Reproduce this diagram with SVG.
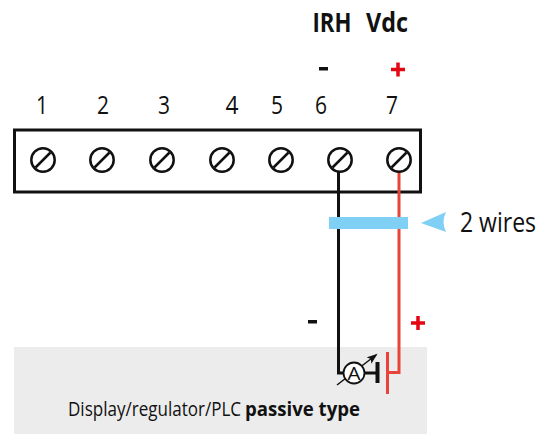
<svg xmlns="http://www.w3.org/2000/svg" width="544" height="434" viewBox="0 0 544 434">
<style>
text{font-family:"Open Sans","Noto Sans","Liberation Sans",sans-serif;fill:#111}
.n{font-size:26px;text-anchor:middle}
.b{font-weight:700}
.s{fill:none;stroke:#111;stroke-width:2.5}
.k{stroke:#111;stroke-width:2.5}
.w{fill:none;stroke:#111;stroke-width:3}
.r{fill:none;stroke:#e9443a;stroke-width:3}
</style>
<defs>
<g id="screw"><circle r="11.7" fill="#fff" class="s"/><line x1="-7.5" y1="7.5" x2="7.5" y2="-7.5" class="k"/></g>
<marker id="ah" markerWidth="12" markerHeight="10" refX="9" refY="4" orient="auto" markerUnits="userSpaceOnUse"><path d="M0 0L11 4L0 8L2.5 4Z" fill="#111"/></marker>
</defs>
<rect id="panel" x="14" y="347" width="413" height="87" fill="#ececec"/>
<g id="terminal-block">
<rect x="14.5" y="130" width="406" height="62" fill="#fff" stroke="#111" stroke-width="3"/>
</g>
<g id="connectors">
<path class="w" d="M338.500 172V373H344"/>
<path class="r" d="M399 172V372.500H387"/>
<path id="cable" d="M329 217H408V229H329Z" fill="#80cff5"/>
</g>
<g id="t1"><use href="#screw" x="43" y="160"/><text class="n" x="42" y="114" textLength="12" lengthAdjust="spacingAndGlyphs">1</text></g>
<g id="t2"><use href="#screw" x="102" y="160"/><text class="n" x="103" y="114" textLength="12" lengthAdjust="spacingAndGlyphs">2</text></g>
<g id="t3"><use href="#screw" x="162" y="160"/><text class="n" x="164" y="114" textLength="12" lengthAdjust="spacingAndGlyphs">3</text></g>
<g id="t4"><use href="#screw" x="222" y="160"/><text class="n" x="232" y="114" textLength="13" lengthAdjust="spacingAndGlyphs">4</text></g>
<g id="t5"><use href="#screw" x="281" y="160"/><text class="n" x="277" y="114" textLength="12" lengthAdjust="spacingAndGlyphs">5</text></g>
<g id="t6"><use href="#screw" x="340" y="160"/><text class="n" x="321" y="114" textLength="12" lengthAdjust="spacingAndGlyphs">6</text></g>
<g id="t7"><use href="#screw" x="399" y="160"/><text class="n" x="392" y="114" textLength="12" lengthAdjust="spacingAndGlyphs">7</text></g>
<g id="header-irh"><text class="n b" x="332" y="32" textLength="39" lengthAdjust="spacingAndGlyphs">IRH</text></g>
<g id="header-vdc"><text class="n b" x="387" y="32" textLength="42" lengthAdjust="spacingAndGlyphs">Vdc</text></g>
<g id="signs">
<rect x="319" y="67" width="9" height="3.500" fill="#111"/>
<path d="M391 69.500H405M398 62.500V76.500" stroke="#e30613" stroke-width="3.500" fill="none"/>
<rect x="308" y="320" width="9" height="3.500" fill="#111"/>
<path d="M411 323H425M418 316V330" stroke="#e30613" stroke-width="3.500" fill="none"/>
</g>
<g id="wires-callout">
<path d="M421 223L446 212Q441 222 446 232Z" fill="#80cff5"/>
<text transform="translate(460 232) scale(.854 1)" font-size="27" textLength="89" lengthAdjust="spacingAndGlyphs">2 wires</text>
</g>
<g id="ammeter">
<line x1="365" y1="373" x2="377" y2="373" class="w"/>
<line x1="377.500" y1="362" x2="377.500" y2="383" stroke="#111" stroke-width="4"/>
<line x1="387.500" y1="352" x2="387.500" y2="394" stroke="#e9443a" stroke-width="3"/>
<line x1="337" y1="385" x2="376" y2="355" stroke="#111" stroke-width="1.500" marker-end="url(#ah)"/>
<circle cx="354" cy="373" r="10.500" fill="#fff" stroke="#111" stroke-width="1.800"/>
<text x="354" y="380" font-size="19" text-anchor="middle" textLength="13" lengthAdjust="spacingAndGlyphs">A</text>
</g>
<g id="panel-label">
<text transform="translate(68 416) scale(.901 1)" font-size="20" textLength="192" lengthAdjust="spacingAndGlyphs">Display/regulator/PLC</text>
<text class="b" transform="translate(245 416) scale(.935 1)" font-size="20" textLength="123" lengthAdjust="spacingAndGlyphs">passive type</text>
</g>
</svg>
